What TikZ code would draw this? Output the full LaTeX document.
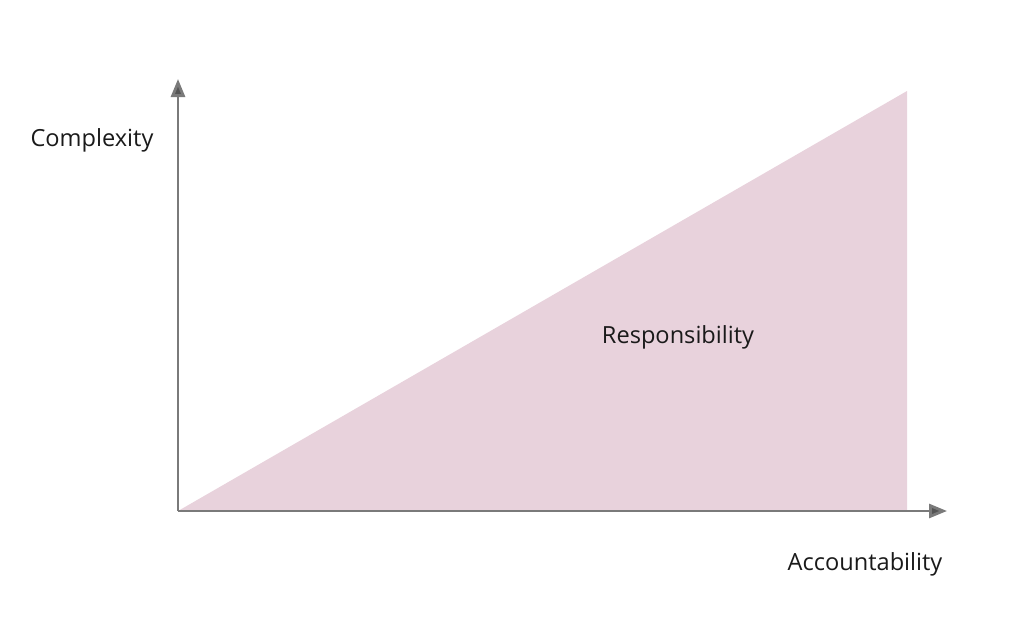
\documentclass[tikz,border=0pt]{standalone}
\usepackage{fontspec}
\setmainfont{Open Sans}
\usepackage{xcolor}
\usetikzlibrary{positioning,arrows.meta}

\definecolor{respfill}{HTML}{E8D2DC}
\definecolor{axisgray}{HTML}{7A7A7A}
\definecolor{tipgray}{HTML}{555555}
\definecolor{labelink}{HTML}{1A1A1A}

\tikzset{
  axisline/.style={line width=1.4pt, axisgray, -{Triangle[length=9pt,width=7pt,fill=tipgray]}},
  axislabel/.style={font=\fontsize{11.8}{13}\selectfont, text=labelink, inner sep=0pt},
}

\begin{document}
\begin{tikzpicture}[x=0.5pt, y=-0.5pt]
  \useasboundingbox (0,0) rectangle (1023,622);

  % responsibility wedge
  \fill[respfill] (178,511) -- (907,91) -- (907,511) -- cycle;
  \node[axislabel] (resp) at (678,337) {Responsibility};

  % axes
  \coordinate (origin) at (178,511);
  \coordinate (ytip) at (178,79);
  \coordinate (xtip) at (947,511);
  \draw[axisline] (origin) -- (ytip);
  \draw[axisline] (origin) -- (xtip);

  \node[axislabel] (complexity) at (92,140) {Complexity};
  \node[axislabel] (accountability) at (865,564) {Accountability};
\end{tikzpicture}
\end{document}
